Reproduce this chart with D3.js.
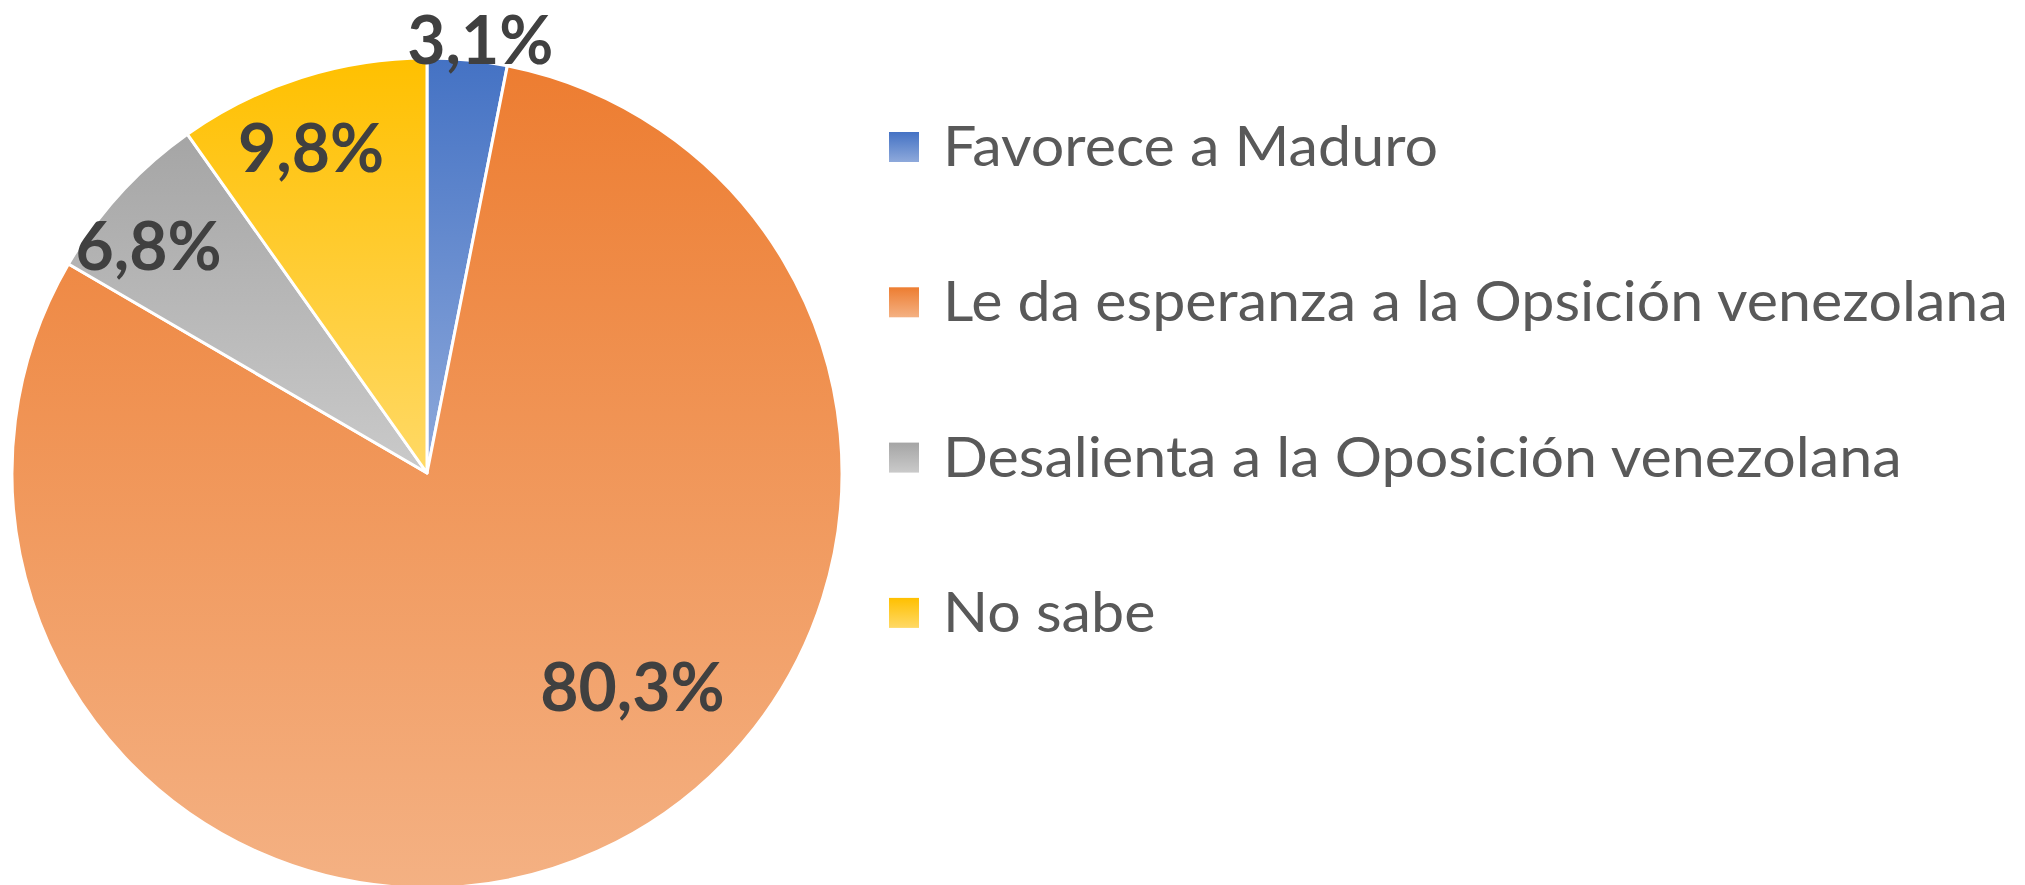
<!DOCTYPE html>
<html>
<head>
<meta charset="utf-8">
<script src="https://cdn.jsdelivr.net/npm/d3@7"></script>
<style>
  html, body { margin: 0; padding: 0; background: #fff; }
  svg { display: block; }
</style>
</head>
<body>
<svg id="chart" width="2025" height="885"></svg>
<script>
// chart data
const categories = [
    'Favorece a Maduro',
    'Le da esperanza a la Opsición venezolana',
    'Desalienta a la Oposición venezolana',
    'No sabe'
];
const values = [3.1, 80.3, 6.8, 9.8];
const labels = ['3,1%', '80,3%', '6,8%', '9,8%'];

// gradient colours per slice (top -> bottom)
const colorsTop = ['#4472C4', '#ED7D31', '#A5A5A5', '#FFC000'];
const colorsBottom = ['#8EA9DB', '#F4B183', '#CACACA', '#FFD966'];

// label placement: fraction along slice angle, fraction of radius
const labelAngleFrac = [0.63, 0.433, 0.363, 0.442];
const labelRadiusFrac = [1.048, 0.717, 0.865, 0.83];

const svg = d3.select('#chart');
const cx = 427, cy = 473, radius = 415;

const defs = svg.append('defs');
colorsTop.forEach((c, i) => {
    const g = defs.append('linearGradient')
        .attr('id', 'grad' + i)
        .attr('x1', 0).attr('y1', 0)
        .attr('x2', 0).attr('y2', 1);
    g.append('stop').attr('offset', '0%').attr('stop-color', c);
    g.append('stop').attr('offset', '100%').attr('stop-color', colorsBottom[i]);
});

const pie = d3.pie().sort(null).value(d => d);
const arcs = pie(values);
const arc = d3.arc().innerRadius(0).outerRadius(radius);

const pieG = svg.append('g').attr('transform', `translate(${cx},${cy})`);

pieG.selectAll('path.slice')
    .data(arcs)
    .enter()
    .append('path')
    .attr('class', 'slice')
    .attr('d', arc)
    .attr('fill', (d, i) => `url(#grad${i})`)
    .attr('stroke', '#fff')
    .attr('stroke-width', 3)
    .attr('stroke-linejoin', 'round');

// data labels
pieG.selectAll('text.lbl')
    .data(arcs)
    .enter()
    .append('text')
    .attr('class', 'lbl')
    .attr('x', (d, i) => {
        const a = d.startAngle + (d.endAngle - d.startAngle) * labelAngleFrac[i];
        return Math.sin(a) * radius * labelRadiusFrac[i];
    })
    .attr('y', (d, i) => {
        const a = d.startAngle + (d.endAngle - d.startAngle) * labelAngleFrac[i];
        return -Math.cos(a) * radius * labelRadiusFrac[i];
    })
    .attr('dy', '0.35em')
    .attr('text-anchor', 'middle')
    .attr('font-family', 'Lato, "Open Sans", sans-serif')
    .attr('font-weight', 'bold')
    .attr('font-size', 66)
    .attr('fill', '#404040')
    .text((d, i) => labels[i]);

// legend
const legendX = 889, legendTop = 166, legendStep = 155.3, sw = 30;
const legend = svg.append('g');

const items = legend.selectAll('g.item')
    .data(categories)
    .enter()
    .append('g')
    .attr('class', 'item')
    .attr('transform', (d, i) => `translate(${legendX},${legendTop + i * legendStep})`);

items.append('rect')
    .attr('x', 0)
    .attr('y', -34)
    .attr('width', sw)
    .attr('height', sw)
    .attr('fill', (d, i) => `url(#grad${i})`);

const legendText = items.append('text')
    .attr('font-family', 'Lato, "Open Sans", sans-serif')
    .attr('font-size', 57)
    .attr('fill', '#595959')
    .text(d => d);

// squeeze text to a Calibri-like width
let maxW = 0;
legendText.each(function () { maxW = Math.max(maxW, this.getComputedTextLength()); });
const sx = 1065 / maxW;
legendText.attr('transform', `translate(54,0) scale(${sx},1)`);
</script>
</body>
</html>
